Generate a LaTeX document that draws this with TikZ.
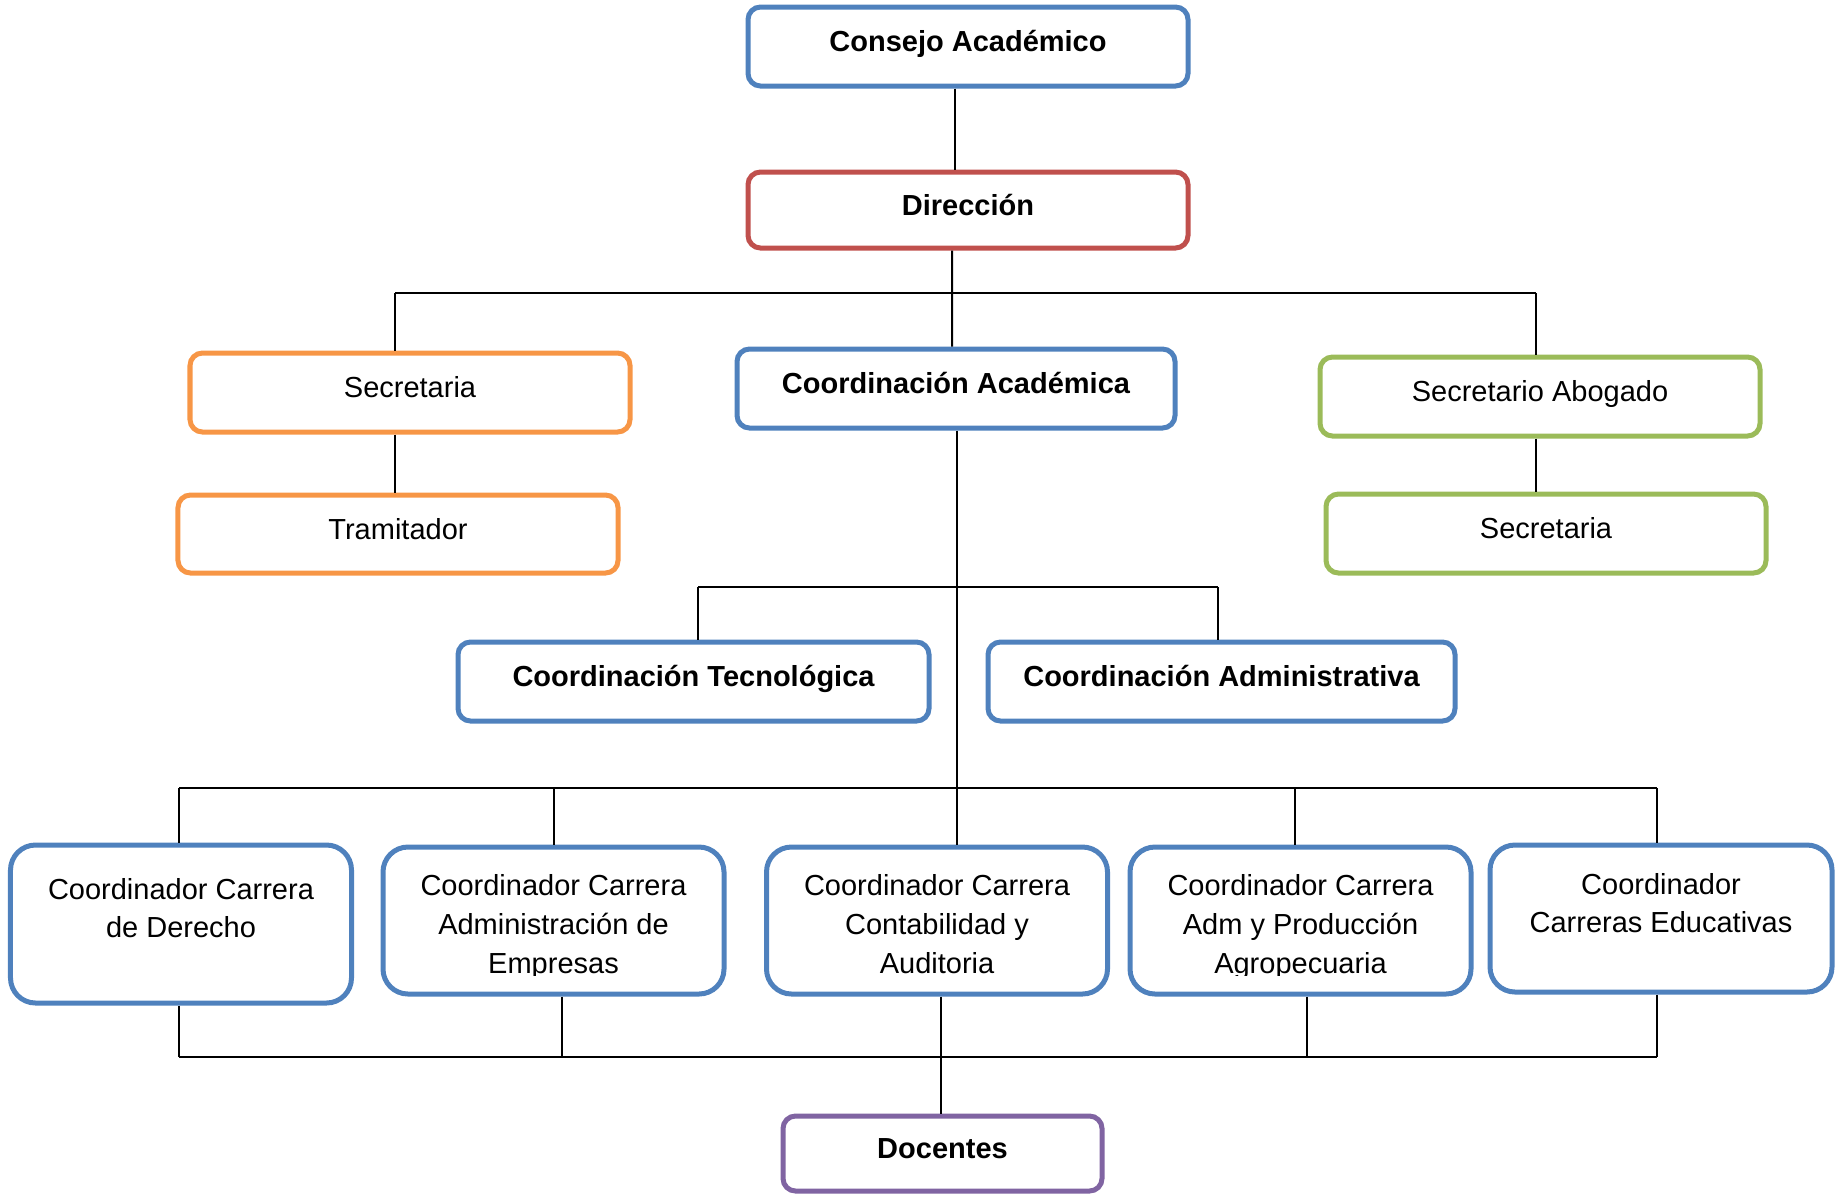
\documentclass[tikz,border=0pt]{standalone}
\usepackage{fontspec}
\setmainfont{Liberation Sans}
\definecolor{azul}{RGB}{79,129,189}
\definecolor{rojo}{RGB}{192,80,77}
\definecolor{naranja}{RGB}{247,150,70}
\definecolor{verde}{RGB}{155,187,89}
\definecolor{morado}{RGB}{128,100,162}

\begin{document}
\begin{tikzpicture}[x=0.4pt,y=-0.4pt,
  box/.style={draw=#1,line width=2pt,rounded corners=5pt,minimum width=176pt,minimum height=31.6pt,
    inner sep=0pt,text height=8.3pt,text depth=4pt,font=\fontsize{11.6}{15.2}\selectfont},
  big/.style={draw=azul,line width=2pt,rounded corners=10pt,minimum width=136.4pt,minimum height=58.8pt},
  txt/.style={anchor=north,inner sep=0pt,align=center,font=\fontsize{11.6}{15.5}\selectfont},
  link/.style={line width=0.8pt}]
\useasboundingbox (0,0) rectangle (1837,1194);

\node[box=azul] (consejo) at (968,46.5) {\bfseries Consejo Académico};
\node[box=rojo,minimum height=30.4pt] (direccion) at (968,210) {\bfseries Dirección};
\node[box=naranja] (secre1) at (410,392.5) {Secretaria};
\node[box=naranja,minimum height=31.2pt] (tramitador) at (398,534) {Tramitador};
\node[box=azul,minimum width=175.2pt] (coordacad) at (956,388.5) {\bfseries Coordinación Académica};
\node[box=verde] (abogado) at (1540,396.5) {Secretario Abogado};
\node[box=verde] (secre2) at (1546,533.5) {Secretaria};
\node[box=azul,minimum width=188.4pt] (tecno) at (693.5,681.5) {\bfseries Coordinación Tecnológica};
\node[box=azul,minimum width=186.8pt] (admin) at (1221.5,681.5) {\bfseries Coordinación Administrativa};
\node[box=morado,minimum width=127.6pt,minimum height=30pt] (docentes) at (942.5,1153.5) {\bfseries Docentes};

% carreras
\node[big,minimum height=63.2pt] (derecho) at (181,924) {};
\node[big] (empresas) at (553.5,920.5) {};
\node[big] (contab) at (937,920.5) {};
\node[big] (agro) at (1300.5,920.5) {};
\node[big,minimum width=136.8pt] (educ) at (1661,918.5) {};

\begin{scope}
\clip (0,840) rectangle (1837,975);
\node[txt] (derechoT) at ([yshift=-14pt]derecho.north) {Coordinador Carrera\\de Derecho};
\node[txt] (empresasT) at ([yshift=-11.8pt]empresas.north) {Coordinador Carrera\\Administración de\\Empresas};
\node[txt] (contabT) at ([yshift=-11.8pt]contab.north) {Coordinador Carrera\\Contabilidad y\\Auditoria};
\node[txt] (agroT) at ([yshift=-11.8pt]agro.north) {Coordinador Carrera\\Adm y Producción\\Agropecuaria};
\node[txt] (educT) at ([yshift=-12pt]educ.north) {Coordinador\\Carreras Educativas};
\end{scope}

% lineas
\coordinate (b1l) at (395,293);
\coordinate (b1r) at (1536,293);
\coordinate (b2l) at (698,587);
\coordinate (b2r) at (1218,587);
\coordinate (b3l) at (179,788);
\coordinate (b3m) at (957,788);
\coordinate (b3r) at (1657,788);
\coordinate (b4l) at (179,1057);
\coordinate (b4m) at (941,1057);
\coordinate (b4r) at (1657,1057);

\draw[link] ([xshift=-5.2pt]consejo.south) -- ([xshift=-5.2pt]direccion.north);
\draw[link] ([xshift=-6.4pt]direccion.south) -- ([xshift=-1.6pt]coordacad.north);
\draw[link] (b1l) -- (b1r);
\draw[link] (b1l) -- (b1l |- secre1.north);
\draw[link] (secre1.south -| b1l) -- (tramitador.north -| b1l);
\draw[link] (b1r) -- (b1r |- abogado.north);
\draw[link] (abogado.south -| b1r) -- (secre2.north -| b1r);

\draw[link] (coordacad.south -| b3m) -- (contab.north -| b3m);
\draw[link] (b2l) -- (b2r);
\draw[link] (b2l) -- (b2l |- tecno.north);
\draw[link] (b2r) -- (b2r |- admin.north);

\draw[link] (b3l) -- (b3r);
\draw[link] (b3l) -- (b3l |- derecho.north);
\draw[link] (empresas.north |- b3l) -- (empresas.north);
\draw[link] ([xshift=-2.2pt]agro.north |- b3l) -- ([xshift=-2.2pt]agro.north);
\draw[link] (b3r) -- (b3r |- educ.north);

\draw[link] (b4l) -- (b4r);
\draw[link] (derecho.south -| b4l) -- (b4l);
\draw[link] ([xshift=3.4pt]empresas.south) -- ([xshift=3.4pt]empresas.south |- b4l);
\draw[link] (contab.south -| b4m) -- (docentes.north -| b4m);
\draw[link] ([xshift=2.6pt]agro.south) -- ([xshift=2.6pt]agro.south |- b4l);
\draw[link] (educ.south -| b4r) -- (b4r);
\end{tikzpicture}
\end{document}
